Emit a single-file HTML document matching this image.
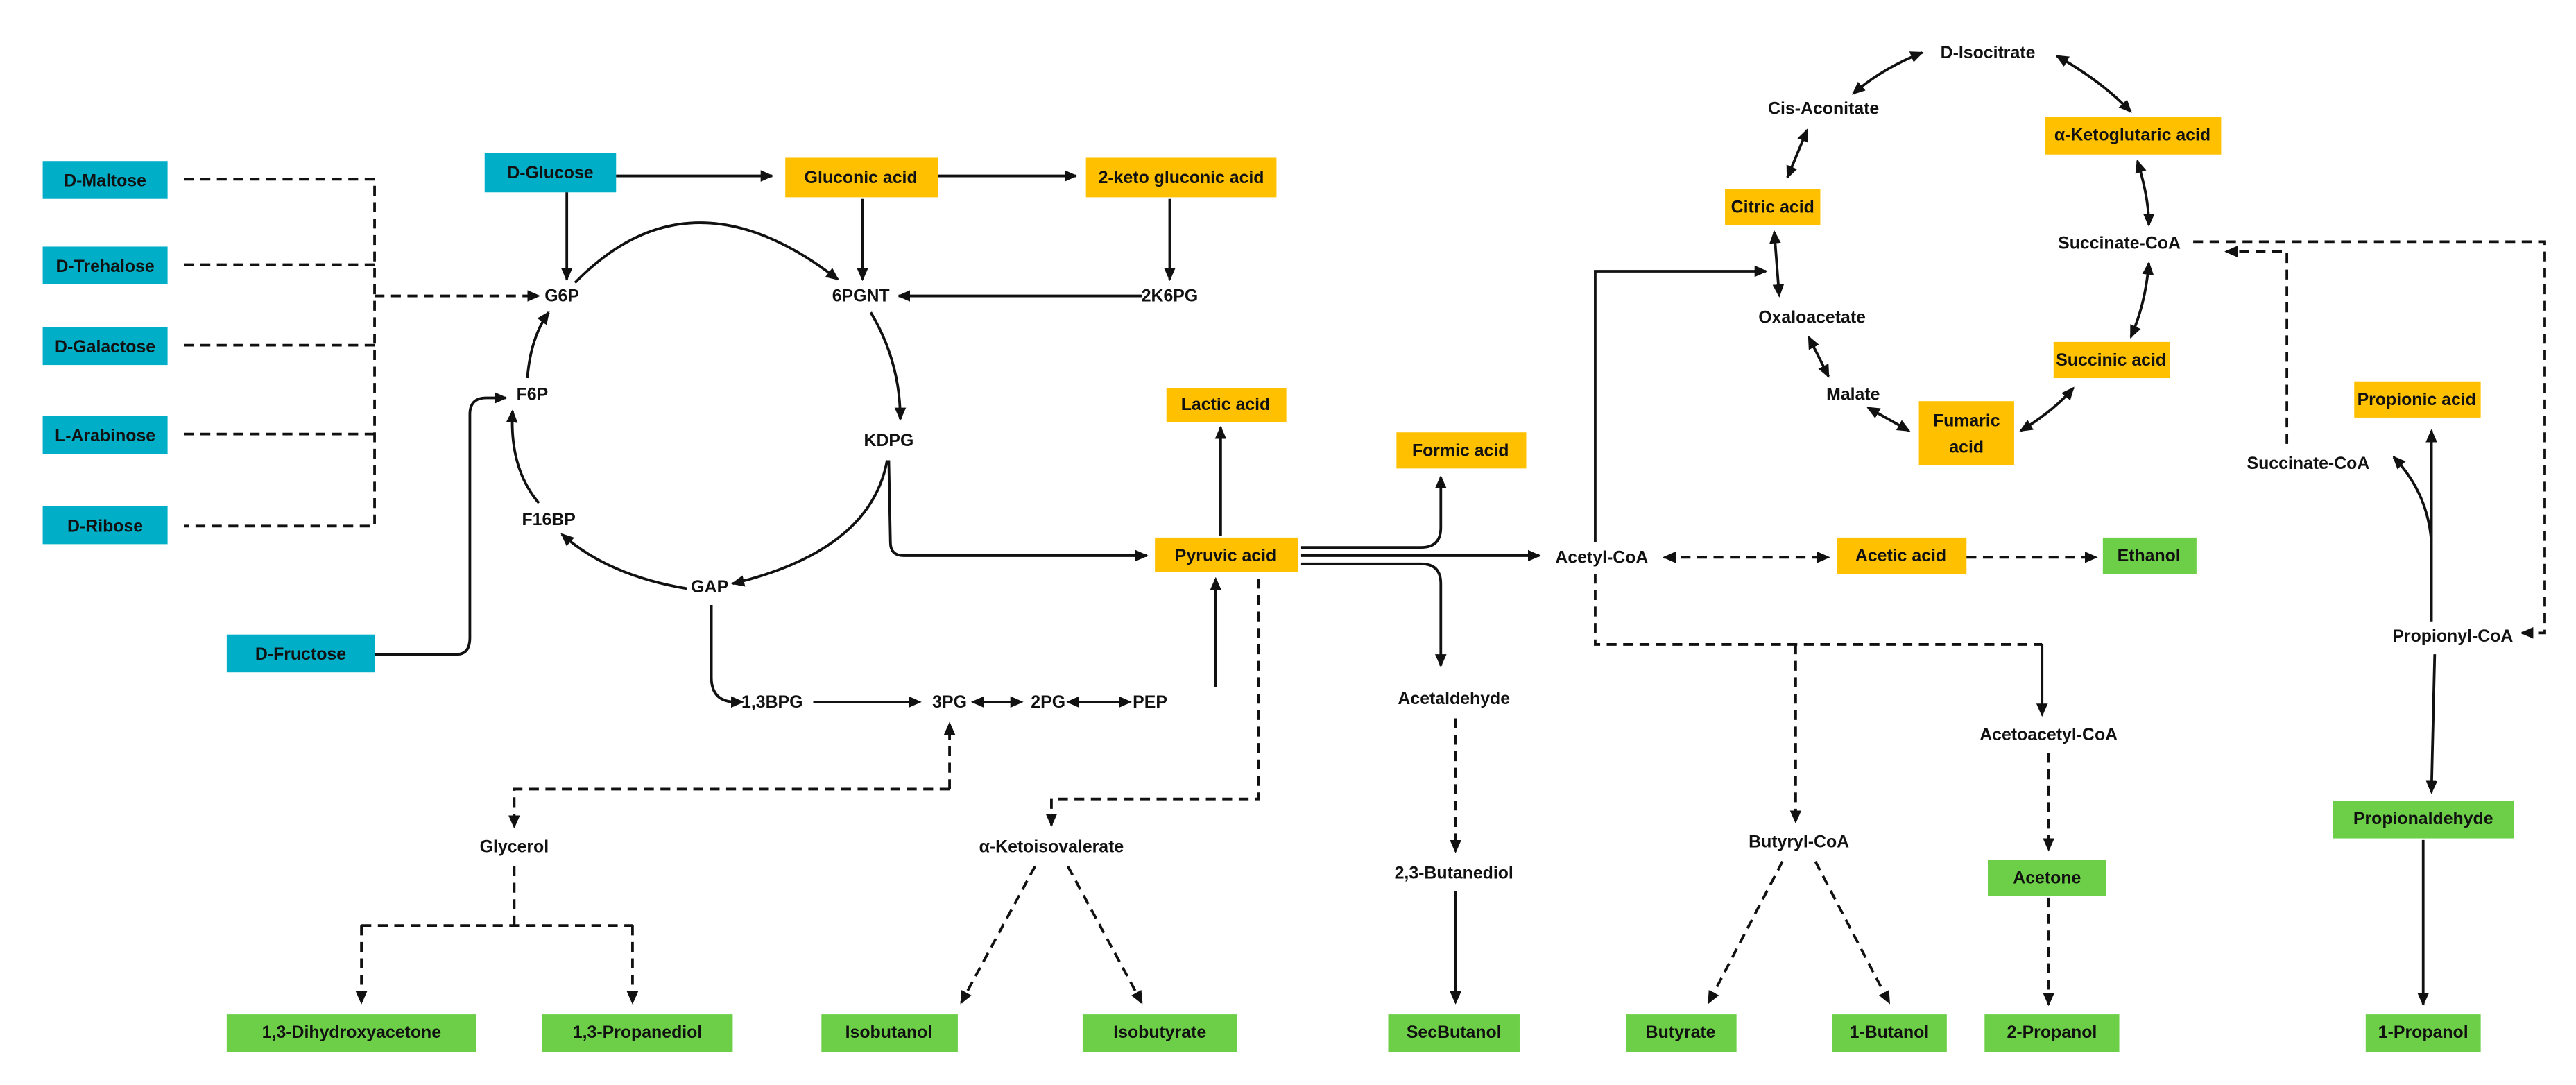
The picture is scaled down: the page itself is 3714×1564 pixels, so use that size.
<!DOCTYPE html>
<html><head><meta charset="utf-8"><style>
html,body{margin:0;padding:0;background:#fff;}
svg{display:block;}
text{font-family:"Liberation Sans",sans-serif;font-weight:bold;font-size:10.5px;fill:#111;text-anchor:middle;dominant-baseline:central;}
.s{stroke:#111;stroke-width:1.6;fill:none;}
.d{stroke:#111;stroke-width:1.6;fill:none;stroke-dasharray:6 4;}
.b{fill:#00AEC7;} .o{fill:#FFC000;} .g{fill:#6CCF47;}
</style></head><body>
<svg width="3714" height="1564" viewBox="0 0 1568 660" preserveAspectRatio="none" xmlns="http://www.w3.org/2000/svg">
<defs>
<marker id="a" markerWidth="8" markerHeight="8" refX="7" refY="4" orient="auto" markerUnits="userSpaceOnUse"><path d="M0,0.5 L8,4 L0,7.5 Z" fill="#111"/></marker>
<marker id="r" markerWidth="8" markerHeight="8" refX="1" refY="4" orient="auto" markerUnits="userSpaceOnUse"><path d="M8,0.5 L0,4 L8,7.5 Z" fill="#111"/></marker>
</defs>
<!-- boxes -->
<rect class="b" x="26" y="98" width="76" height="23"/><text x="64" y="110">D-Maltose</text>
<rect class="b" x="26" y="150" width="76" height="23"/><text x="64" y="162">D-Trehalose</text>
<rect class="b" x="26" y="199" width="76" height="23"/><text x="64" y="211">D-Galactose</text>
<rect class="b" x="26" y="253" width="76" height="23"/><text x="64" y="265">L-Arabinose</text>
<rect class="b" x="26" y="308" width="76" height="23"/><text x="64" y="320">D-Ribose</text>
<rect class="b" x="138" y="386" width="90" height="23"/><text x="183" y="398">D-Fructose</text>
<rect class="b" x="295" y="93" width="80" height="24"/><text x="335" y="105">D-Glucose</text>
<rect class="o" x="478" y="96" width="93" height="24"/><text x="524" y="108">Gluconic acid</text>
<rect class="o" x="661" y="96" width="116" height="24"/><text x="719" y="108">2-keto gluconic acid</text>
<rect class="o" x="710" y="236" width="73" height="21"/><text x="746" y="246">Lactic acid</text>
<rect class="o" x="850" y="263" width="79" height="22"/><text x="889" y="274">Formic acid</text>
<rect class="o" x="703" y="327" width="87" height="21"/><text x="746" y="338">Pyruvic acid</text>
<rect class="o" x="1118" y="327" width="79" height="22"/><text x="1157" y="338">Acetic acid</text>
<rect class="g" x="1280" y="327" width="57" height="22"/><text x="1308" y="338">Ethanol</text>
<rect class="o" x="1245" y="71" width="107" height="23"/><text x="1298" y="82">α-Ketoglutaric acid</text>
<rect class="o" x="1050" y="115" width="58" height="22"/><text x="1079" y="126">Citric acid</text>
<rect class="o" x="1250" y="208" width="71" height="22"/><text x="1285" y="219">Succinic acid</text>
<rect class="o" x="1168" y="244" width="58" height="39"/><text x="1197" y="256">Fumaric</text><text x="1197" y="272">acid</text>
<rect class="o" x="1433" y="232" width="77" height="22"/><text x="1471" y="243">Propionic acid</text>
<rect class="g" x="1420" y="487" width="110" height="23"/><text x="1475" y="498">Propionaldehyde</text>
<rect class="g" x="1210" y="523" width="72" height="22"/><text x="1246" y="534">Acetone</text>
<rect class="g" x="138" y="617" width="152" height="23"/><text x="214" y="628">1,3-Dihydroxyacetone</text>
<rect class="g" x="330" y="617" width="116" height="23"/><text x="388" y="628">1,3-Propanediol</text>
<rect class="g" x="500" y="617" width="83" height="23"/><text x="541" y="628">Isobutanol</text>
<rect class="g" x="659" y="617" width="94" height="23"/><text x="706" y="628">Isobutyrate</text>
<rect class="g" x="845" y="617" width="80" height="23"/><text x="885" y="628">SecButanol</text>
<rect class="g" x="990" y="617" width="67" height="23"/><text x="1023" y="628">Butyrate</text>
<rect class="g" x="1115" y="617" width="70" height="23"/><text x="1150" y="628">1-Butanol</text>
<rect class="g" x="1208" y="617" width="82" height="23"/><text x="1249" y="628">2-Propanol</text>
<rect class="g" x="1440" y="617" width="70" height="23"/><text x="1475" y="628">1-Propanol</text>
<!-- labels -->
<text x="342" y="180">G6P</text><text x="524" y="180">6PGNT</text><text x="712" y="180">2K6PG</text>
<text x="541" y="268">KDPG</text><text x="324" y="240">F6P</text><text x="334" y="316">F16BP</text>
<text x="432" y="357">GAP</text><text x="470" y="427">1,3BPG</text><text x="578" y="427">3PG</text>
<text x="638" y="427">2PG</text><text x="700" y="427">PEP</text>
<text x="313" y="515">Glycerol</text><text x="640" y="515">α-Ketoisovalerate</text>
<text x="885" y="425">Acetaldehyde</text><text x="885" y="531">2,3-Butanediol</text>
<text x="975" y="339">Acetyl-CoA</text><text x="1247" y="447">Acetoacetyl-CoA</text>
<text x="1095" y="512">Butyryl-CoA</text>
<text x="1210" y="32">D-Isocitrate</text><text x="1110" y="66">Cis-Aconitate</text>
<text x="1290" y="148">Succinate-CoA</text><text x="1103" y="193">Oxaloacetate</text>
<text x="1128" y="240">Malate</text><text x="1405" y="282">Succinate-CoA</text>
<text x="1493" y="387">Propionyl-CoA</text>
<!-- sugar dashes -->
<path class="d" d="M112,109 H228 V320 H112 M112,161 H228 M112,210 H228 M112,264 H228"/>
<path class="d" d="M228,180 H328" marker-end="url(#a)" stroke-width="2"/>
<!-- glucose branch -->
<path class="s" d="M345,117 V170" marker-end="url(#a)"/>
<path class="s" d="M375,107 H470" marker-end="url(#a)"/>
<path class="s" d="M571,107 H655" marker-end="url(#a)"/>
<path class="s" d="M525,121 V170" marker-end="url(#a)"/>
<path class="s" d="M712,121 V170" marker-end="url(#a)"/>
<path class="s" d="M695,180 H547" marker-end="url(#a)"/>
<!-- circle -->
<path class="s" d="M350,172 Q420,100 510,170" marker-end="url(#a)"/>
<path class="s" d="M530,190 Q548,220 548,255" marker-end="url(#a)"/>
<path class="s" d="M540,280 Q530,335 446,355" marker-end="url(#a)"/>
<path class="s" d="M418,358 Q370,350 342,325" marker-end="url(#a)"/>
<path class="s" d="M328,306 Q310,285 312,250" marker-end="url(#a)"/>
<path class="s" d="M321,230 Q323,205 334,190" marker-end="url(#a)"/>
<!-- fructose -->
<path class="s" d="M228,398 H278 Q286,398 286,388 V252 Q286,242 296,242 H308" stroke-width="2" marker-end="url(#a)"/>
<!-- KDPG to pyruvic -->
<path class="s" d="M541,280 L542,330 Q542,338 550,338 H698" marker-end="url(#a)"/>
<path class="s" d="M743,326 V260" marker-end="url(#a)"/>
<!-- lower glycolysis -->
<path class="s" d="M433,368 V412 Q433,427 448,427 H452" marker-end="url(#a)"/>
<path class="s" d="M495,427 H560" marker-end="url(#a)" stroke-width="2"/>
<path class="s" d="M592,427 H622" marker-start="url(#r)" marker-end="url(#a)"/>
<path class="s" d="M650,427 H688" marker-start="url(#r)" marker-end="url(#a)"/>
<path class="s" d="M740,418 V352" marker-end="url(#a)"/>
<!-- glycerol -->
<path class="d" d="M578,480 V440" marker-end="url(#a)"/>
<path class="d" d="M578,480 H313 V503" marker-end="url(#a)"/>
<path class="d" d="M313,527 V563" stroke-width="2"/>
<path class="d" d="M220,563 H385"/>
<path class="d" d="M220,563 V610" marker-end="url(#a)"/>
<path class="d" d="M385,563 V610" marker-end="url(#a)"/>
<!-- keto isovalerate -->
<path class="d" d="M766,352 V486 H640 V502" marker-end="url(#a)"/>
<path class="d" d="M630,527 L585,610" marker-end="url(#a)"/>
<path class="d" d="M650,527 L695,610" marker-end="url(#a)"/>
<!-- pyruvic right -->
<path class="s" d="M792,333 H865 Q877,333 877,321 V290" marker-end="url(#a)"/>
<path class="s" d="M792,338 H937" marker-end="url(#a)" stroke-width="2"/>
<path class="s" d="M792,343 H865 Q877,343 877,355 V405" marker-end="url(#a)"/>
<path class="d" d="M886,437 V518" marker-end="url(#a)"/>
<path class="s" d="M886,542 V610" marker-end="url(#a)"/>
<!-- acetyl-coa -->
<path class="s" d="M971,330 V165 H1075" marker-end="url(#a)"/>
<path class="d" d="M1013,339 H1113" marker-start="url(#r)" marker-end="url(#a)"/>
<path class="d" d="M1197,339 H1276" marker-end="url(#a)"/>
<path class="d" d="M971,349 V392 H1243"/>
<path class="s" d="M1243,392 V435" marker-end="url(#a)"/>
<path class="d" d="M1093,392 V500" marker-end="url(#a)"/>
<path class="d" d="M1085,524 L1040,610" marker-end="url(#a)"/>
<path class="d" d="M1105,524 L1150,610" marker-end="url(#a)"/>
<path class="d" d="M1247,458 V517" marker-end="url(#a)"/>
<path class="d" d="M1247,546 V611" marker-end="url(#a)"/>
<!-- TCA -->
<path class="s" d="M1128,57 Q1145,42 1170,32" marker-start="url(#r)" marker-end="url(#a)"/>
<path class="s" d="M1252,34 Q1280,50 1297,68" marker-start="url(#r)" marker-end="url(#a)"/>
<path class="s" d="M1100,79 L1088,108" marker-start="url(#r)" marker-end="url(#a)"/>
<path class="s" d="M1301,98 Q1308,120 1308,137" marker-start="url(#r)" marker-end="url(#a)"/>
<path class="s" d="M1080,141 L1083,180" marker-start="url(#r)" marker-end="url(#a)"/>
<path class="s" d="M1308,160 Q1306,185 1297,205" marker-start="url(#r)" marker-end="url(#a)"/>
<path class="s" d="M1101,205 L1113,229" marker-start="url(#r)" marker-end="url(#a)"/>
<path class="s" d="M1137,248 L1162,262" marker-start="url(#r)" marker-end="url(#a)"/>
<path class="s" d="M1230,262 Q1250,250 1262,236" marker-start="url(#r)" marker-end="url(#a)"/>
<!-- propionate -->
<path class="d" d="M1335,147 H1549 V385 H1535" marker-end="url(#a)"/>
<path class="d" d="M1392,270 V153 H1355" marker-end="url(#a)"/>
<path class="s" d="M1480,378 V262" marker-end="url(#a)"/>
<path class="s" d="M1480,330 Q1478,300 1457,278" marker-end="url(#a)"/>
<path class="s" d="M1482,398 L1480,482" marker-end="url(#a)"/>
<path class="s" d="M1475,511 V611" marker-end="url(#a)"/>
</svg>
</body></html>
